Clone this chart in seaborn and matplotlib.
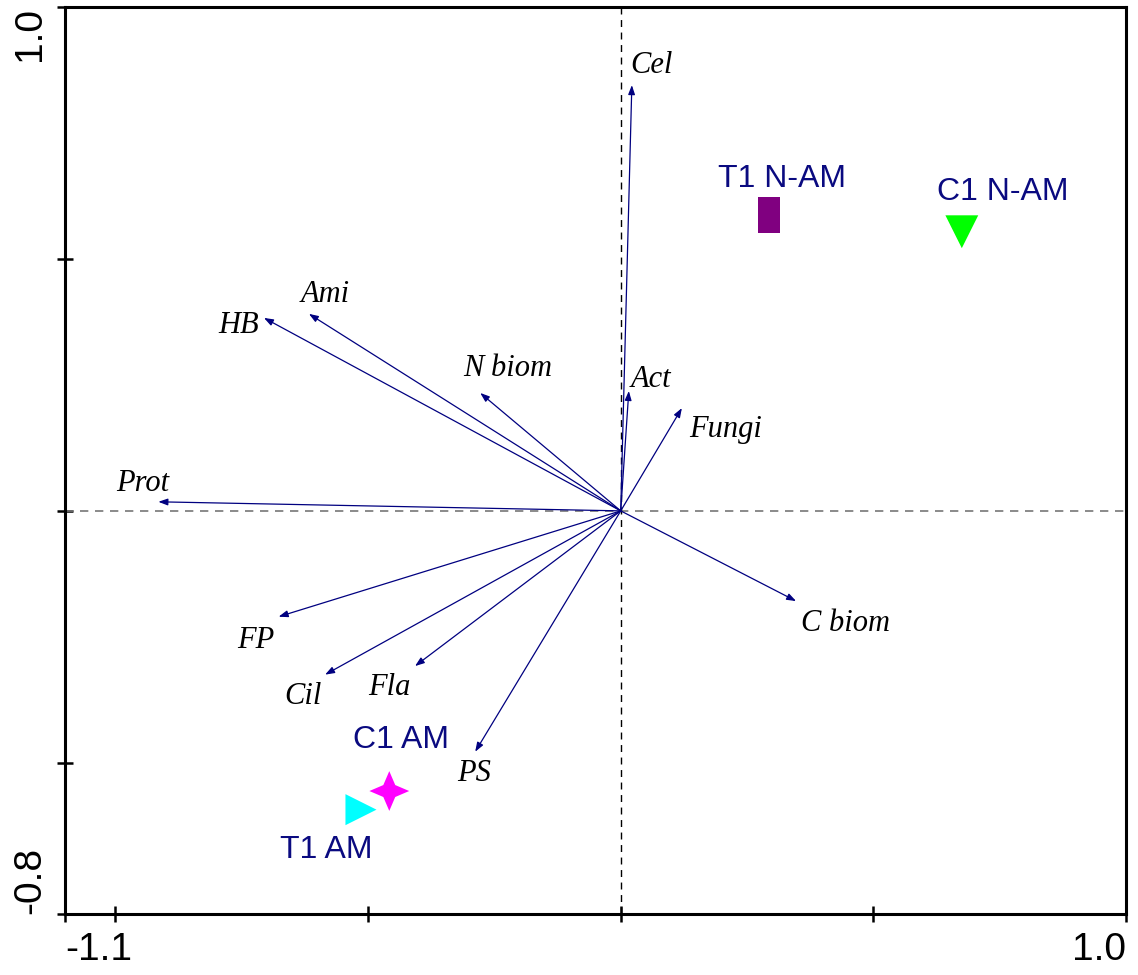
import numpy as np
import pandas as pd
import seaborn as sns
import matplotlib.pyplot as plt
from matplotlib.path import Path

# Environmental / response variables (arrow tips)
var_names = ["Cel", "HB", "Ami", "N biom", "Act", "Fungi", "Prot",
             "C biom", "FP", "Cil", "Fla", "PS"]
var_x = [0.022, -0.706, -0.617, -0.278, 0.016, 0.121, -0.915,
         0.347, -0.677, -0.585, -0.407, -0.288]
var_y = [0.845, 0.383, 0.391, 0.234, 0.238, 0.204, 0.018,
         -0.179, -0.210, -0.325, -0.308, -0.478]
# label offsets from arrow tips (data units)
lab_dx = [0.038, -0.050, 0.032, 0.054, 0.044, 0.086, -0.030,
          0.097, -0.046, -0.044, -0.050, -0.002]
lab_dy = [0.038, -0.016, 0.038, 0.048, 0.022, -0.042, 0.036,
          -0.044, -0.048, -0.044, -0.042, -0.044]

# Samples
samp_names = ["T1 N-AM", "C1 N-AM", "C1 AM", "T1 AM"]
samp_x = [0.294, 0.675, -0.458, -0.514]
samp_y = [0.587, 0.554, -0.556, -0.593]
samp_colors = ["#800080", "#00ff00", "#ff00ff", "#00ffff"]
samp_lab_x = [0.320, 0.756, -0.434, -0.582]
samp_lab_y = [0.658, 0.633, -0.455, -0.674]

rect = Path([(-0.6, -1), (0.6, -1), (0.6, 1), (-0.6, 1), (-0.6, -1)],
            [Path.MOVETO, Path.LINETO, Path.LINETO, Path.LINETO, Path.CLOSEPOLY])
star4 = [(0, 1), (0.3, 0.3), (1, 0), (0.3, -0.3), (0, -1),
         (-0.3, -0.3), (-1, 0), (-0.3, 0.3), (0, 1)]
samp_markers = [rect, "v", star4, ">"]
samp_sizes = [680, 560, 820, 500]

sns.set_style("white")
plt.rcParams["font.family"] = ["Liberation Sans", "DejaVu Sans"]

fig = plt.figure(figsize=(11.38, 9.75), dpi=100)
ax = fig.add_axes([0.057, 0.0626, 0.9325, 0.9302])

ax.axhline(0, color="#777777", lw=1.2, ls=(0, (5, 4)), zorder=1)
ax.axvline(0, color="black", lw=1.0, ls=(0, (5, 4)), zorder=1)

navy = "#000080"
for name, x, y, dx, dy in zip(var_names, var_x, var_y, lab_dx, lab_dy):
    ax.annotate("", xy=(x, y), xytext=(0, 0),
                arrowprops=dict(arrowstyle="-|>,head_length=0.55,head_width=0.2",
                                color=navy, lw=0.9, shrinkA=0, shrinkB=0))
    ax.text(x + dx, y + dy, name, family="Liberation Serif", style="italic",
            fontsize=22, ha="center", va="center", color="black")

df = pd.DataFrame({"x": samp_x, "y": samp_y, "name": samp_names})
for i, row in df.iterrows():
    sns.scatterplot(x=[row.x], y=[row.y], marker=samp_markers[i], s=samp_sizes[i],
                    color=samp_colors[i], edgecolor="none", ax=ax, zorder=3)
    ax.text(samp_lab_x[i], samp_lab_y[i], row["name"], fontsize=23,
            color="#0a0a80", ha="center", va="center")

ax.set_xlim(-1.1, 1.0)
ax.set_ylim(-0.8, 1.0)
ax.set_xticks([-1.1, -1.0, -0.5, 0, 0.5, 1.0])
ax.set_xticklabels(["-1.1", "", "", "", "", "1.0"])
ax.set_yticks([-0.8, -0.5, 0, 0.5, 1.0])
ax.set_yticklabels(["-0.8", "", "", "", "1.0"], rotation=90)
ax.tick_params(axis="both", direction="inout", length=12, width=1.8,
               labelsize=28, color="black", labelcolor="black",
               bottom=True, left=True, top=False, right=False)
ax.tick_params(axis="x", pad=7)
ax.tick_params(axis="y", pad=6)
xl = ax.get_xticklabels()
xl[0].set_ha("left")
xl[-1].set_ha("right")
yl = ax.get_yticklabels()
yl[0].set_va("bottom")
yl[-1].set_va("top")

for sp in ax.spines.values():
    sp.set_linewidth(2.2)
    sp.set_color("black")

fig.savefig("out.png", dpi=100)
